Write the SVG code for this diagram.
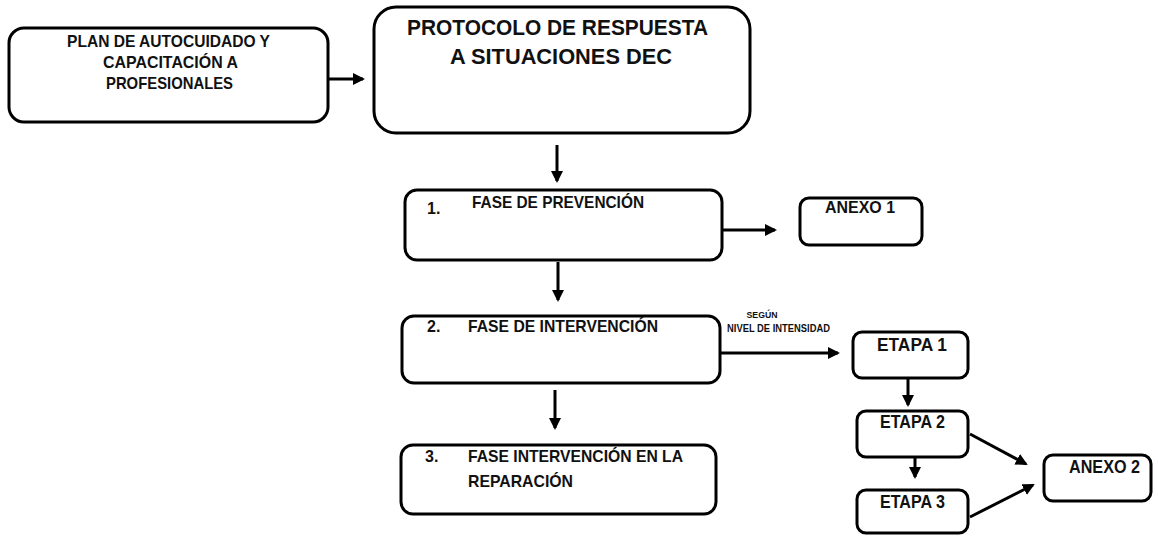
<svg xmlns="http://www.w3.org/2000/svg" width="1158" height="537" viewBox="0 0 1158 537">
<style>
.box{fill:#fff;stroke:#000;stroke-width:3}
.t{font-family:"Liberation Sans",Arial,sans-serif;font-weight:bold;fill:#111}
.c{stroke:#000;stroke-width:3;fill:none;marker-end:url(#ah)}
</style>
<defs>
<marker id="ah" markerUnits="userSpaceOnUse" markerWidth="14" markerHeight="14" refX="10" refY="6" orient="auto">
<path d="M0,0 L12,6 L0,12 z" fill="#000"/>
</marker>
</defs>
<rect width="1158" height="537" fill="#fff"/>
<g id="connectors">
<line class="c" x1="328" y1="79" x2="363" y2="79"/>
<line class="c" x1="557" y1="145" x2="557" y2="181"/>
<line class="c" x1="558" y1="262" x2="558" y2="300"/>
<line class="c" x1="555" y1="390" x2="555" y2="428"/>
<line class="c" x1="722" y1="230" x2="775" y2="230"/>
<line class="c" x1="720" y1="353" x2="838" y2="353"/>
<line class="c" x1="908" y1="379" x2="908" y2="405"/>
<line class="c" x1="915" y1="458" x2="915" y2="477"/>
<line class="c" x1="970" y1="434" x2="1026" y2="464"/>
<line class="c" x1="970" y1="517" x2="1033" y2="485"/>
</g>
<g id="label-segun">
<text class="t" x="762" y="318" font-size="9" text-anchor="middle" textLength="31" lengthAdjust="spacingAndGlyphs">SEGÚN</text>
<text class="t" x="727" y="332" font-size="10" textLength="103" lengthAdjust="spacingAndGlyphs">NIVEL DE INTENSIDAD</text>
</g>
<g id="plan">
<rect class="box" x="9" y="28" width="319" height="94" rx="15"/>
<text class="t" x="67" y="47" font-size="17" textLength="203" lengthAdjust="spacingAndGlyphs">PLAN DE AUTOCUIDADO Y</text>
<text class="t" x="103" y="68" font-size="17" textLength="135" lengthAdjust="spacingAndGlyphs">CAPACITACIÓN A</text>
<text class="t" x="106" y="89" font-size="17" textLength="127" lengthAdjust="spacingAndGlyphs">PROFESIONALES</text>
</g>
<g id="protocolo">
<rect class="box" x="374" y="7" width="376" height="126" rx="22"/>
<text class="t" x="407" y="35" font-size="22" textLength="301" lengthAdjust="spacingAndGlyphs">PROTOCOLO DE RESPUESTA</text>
<text class="t" x="450" y="64" font-size="22" textLength="222" lengthAdjust="spacingAndGlyphs">A SITUACIONES DEC</text>
</g>
<g id="fase1">
<rect class="box" x="405" y="190" width="317" height="70" rx="12"/>
<text class="t" x="427" y="214" font-size="16">1.</text>
<text class="t" x="472" y="208" font-size="17" textLength="172" lengthAdjust="spacingAndGlyphs">FASE DE PREVENCIÓN</text>
</g>
<g id="anexo1">
<rect class="box" x="800" y="198" width="122" height="47" rx="9"/>
<text class="t" x="825" y="213" font-size="17" textLength="70" lengthAdjust="spacingAndGlyphs">ANEXO 1</text>
</g>
<g id="fase2">
<rect class="box" x="402" y="316" width="318" height="67" rx="12"/>
<text class="t" x="427" y="332" font-size="16">2.</text>
<text class="t" x="468" y="332" font-size="17" textLength="190" lengthAdjust="spacingAndGlyphs">FASE DE INTERVENCIÓN</text>
</g>
<g id="fase3">
<rect class="box" x="401" y="445" width="315" height="69" rx="12"/>
<text class="t" x="425" y="462" font-size="16">3.</text>
<text class="t" x="468" y="462" font-size="17" textLength="215" lengthAdjust="spacingAndGlyphs">FASE INTERVENCIÓN EN LA</text>
<text class="t" x="468" y="487" font-size="17" textLength="105" lengthAdjust="spacingAndGlyphs">REPARACIÓN</text>
</g>
<g id="etapa1">
<rect class="box" x="853" y="332" width="115" height="46" rx="9"/>
<text class="t" x="877" y="351" font-size="18" textLength="70" lengthAdjust="spacingAndGlyphs">ETAPA 1</text>
</g>
<g id="etapa2">
<rect class="box" x="857" y="411" width="111" height="46" rx="9"/>
<text class="t" x="880" y="428" font-size="17.5" textLength="65" lengthAdjust="spacingAndGlyphs">ETAPA 2</text>
</g>
<g id="etapa3">
<rect class="box" x="857" y="490" width="111" height="43" rx="9"/>
<text class="t" x="880" y="508" font-size="17.5" textLength="65" lengthAdjust="spacingAndGlyphs">ETAPA 3</text>
</g>
<g id="anexo2">
<rect class="box" x="1044" y="455" width="107" height="46" rx="9"/>
<text class="t" x="1069" y="473" font-size="17.5" textLength="71" lengthAdjust="spacingAndGlyphs">ANEXO 2</text>
</g>
</svg>
